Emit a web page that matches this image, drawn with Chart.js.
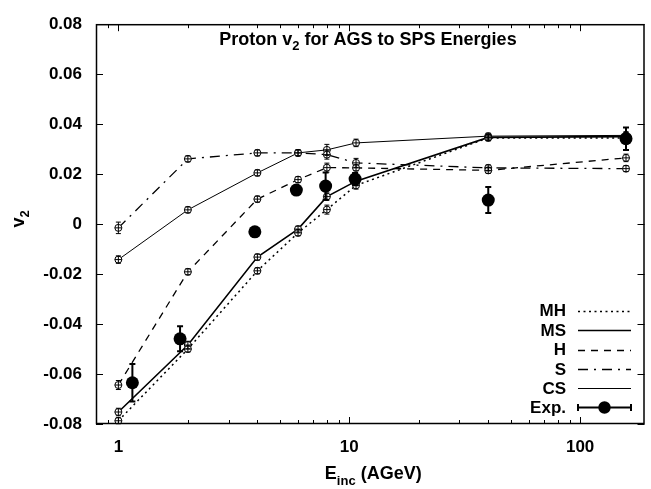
<!DOCTYPE html>
<html><head><meta charset="utf-8">
<script src="https://cdn.jsdelivr.net/npm/chart.js@4/dist/chart.umd.min.js"></script>
<style>html,body{margin:0;padding:0;background:#fff}#wrap{width:651px;height:489px}</style>
</head><body><div id="wrap"><canvas id="c" width="651" height="489"></canvas></div>
<script>
// ---- data ----
const modelEnergies = [1, 2, 4, 6, 8, 10.7, 40, 158];
const mhValues = [-0.0787, -0.0500, -0.0187, -0.0035, 0.0058, 0.0155, 0.0345, 0.0345];
const mhErrors = [0.0012, 0.0012, 0.0012, 0.0012, 0.0018, 0.0015, 0.0012, 0.0015];
const msValues = [-0.0752, -0.0484, -0.0132, -0.0020, 0.0110, 0.0172, 0.0347, 0.0350];
const msErrors = [0.0015, 0.0015, 0.0012, 0.0012, 0.0015, 0.0015, 0.0012, 0.0015];
const hValues = [-0.0644, -0.0191, 0.0100, 0.0178, 0.0226, 0.0225, 0.0215, 0.0265];
const hErrors = [0.0018, 0.0012, 0.0012, 0.0012, 0.0018, 0.0012, 0.0012, 0.0015];
const sValues = [-0.0015, 0.0261, 0.0285, 0.0285, 0.0278, 0.0245, 0.0225, 0.0222];
const sErrors = [0.0023, 0.0012, 0.0012, 0.0012, 0.0018, 0.0018, 0.0012, 0.0012];
const csValues = [-0.0142, 0.0057, 0.0205, 0.0285, 0.0297, 0.0325, 0.0352, 0.0355];
const csErrors = [0.0015, 0.0012, 0.0012, 0.0012, 0.0022, 0.0015, 0.0012, 0.0015];
const expEnergies = [1.15, 1.85, 3.9, 5.9, 7.9, 10.6, 40, 158];
const expValues = [-0.0635, -0.0459, -0.0031, 0.0136, 0.0152, 0.0180, 0.0096, 0.0342];
const expErrors = [0.0075, 0.0050, 0.0010, 0.0015, 0.0055, 0.0025, 0.0052, 0.0045];
const xTickValues = [1, 10, 100];
const yTickValues = [-0.08, -0.06, -0.04, -0.02, 0, 0.02, 0.04, 0.06, 0.08];
const seriesNames = ['MH', 'MS', 'H', 'S', 'CS', 'Exp.'];

const FONT = '"Liberation Sans", Arial, Helvetica, sans-serif';

function pts(xs, ys) { return xs.map((x, i) => ({ x: x, y: ys[i] })); }
function modelSet(label, vals, errs, width, dash) {
  return {
    label: label, data: pts(modelEnergies, vals), errors: errs,
    borderColor: '#000', borderWidth: width, borderDash: dash,
    pointRadius: 3.5, pointHoverRadius: 3.5, pointBackgroundColor: '#fff',
    pointBorderColor: '#000', pointBorderWidth: 1, fill: false, tension: 0,
    capHalf: 2.5, errWidth: 1, crossMark: true
  };
}

const datasets = [
  { label: 'Exp.', data: pts(expEnergies, expValues), errors: expErrors, showLine: false,
    pointRadius: 6.5, pointHoverRadius: 6.5, pointBackgroundColor: '#000', pointBorderColor: '#000',
    pointBorderWidth: 0, borderColor: '#000', borderWidth: 2, capHalf: 3, errWidth: 2, legendExp: true },
  modelSet('MH', mhValues, mhErrors, 1.5, [2, 3.5]),
  modelSet('MS', msValues, msErrors, 1.6, []),
  modelSet('H', hValues, hErrors, 1.3, [7, 6]),
  modelSet('S', sValues, sErrors, 1.3, [10, 6, 2, 6]),
  modelSet('CS', csValues, csErrors, 1, [])
];

function richWidth(ctx, parts, size, subSize) {
  let w = 0;
  parts.forEach(p => { ctx.font = 'bold ' + (p.sub ? subSize : size) + 'px ' + FONT; w += ctx.measureText(p.t).width; });
  return w;
}
function drawRich(ctx, parts, x, y, size, subSize, subDrop) {
  let cx = x;
  parts.forEach(p => {
    ctx.font = 'bold ' + (p.sub ? subSize : size) + 'px ' + FONT;
    ctx.fillText(p.t, cx, y + (p.sub ? subDrop : 0));
    cx += ctx.measureText(p.t).width;
  });
}

const decor = {
  id: 'decor',
  afterDatasetsDraw(chart) {
    const ctx = chart.ctx, xs = chart.scales.x, ys = chart.scales.y;
    ctx.save();
    ctx.strokeStyle = '#000';
    chart.data.datasets.forEach(ds => {
      if (!ds.errors) return;
      ctx.lineWidth = ds.errWidth;
      ctx.setLineDash([]);
      ds.data.forEach((p, i) => {
        const px = xs.getPixelForValue(p.x);
        const py = ys.getPixelForValue(p.y);
        const y1 = ys.getPixelForValue(p.y + ds.errors[i]);
        const y2 = ys.getPixelForValue(p.y - ds.errors[i]);
        const c = ds.capHalf;
        ctx.beginPath();
        ctx.moveTo(px, y1); ctx.lineTo(px, y2);
        ctx.moveTo(px - c, y1); ctx.lineTo(px + c, y1);
        ctx.moveTo(px - c, y2); ctx.lineTo(px + c, y2);
        if (ds.crossMark) { ctx.moveTo(px - 3.5, py); ctx.lineTo(px + 3.5, py); }
        ctx.stroke();
      });
    });
    ctx.restore();
  },
  afterDraw(chart) {
    const ctx = chart.ctx, a = chart.chartArea, xs = chart.scales.x, ys = chart.scales.y;
    ctx.save();
    ctx.strokeStyle = '#000'; ctx.fillStyle = '#000'; ctx.setLineDash([]);
    // frame
    ctx.lineWidth = 1.5;
    ctx.strokeRect(a.left + 0.5, a.top + 0.5, a.right - a.left - 1, a.bottom - a.top - 1);
    // y ticks (inward, both sides)
    ctx.lineWidth = 1;
    ctx.beginPath();
    yTickValues.forEach(v => {
      const py = Math.round(ys.getPixelForValue(v)) + 0.5;
      ctx.moveTo(a.left, py); ctx.lineTo(a.left + 7, py);
      ctx.moveTo(a.right, py); ctx.lineTo(a.right - 7, py);
    });
    // x ticks: majors and minors
    const lo = xs.min, hi = xs.max;
    for (let d = 0.1; d <= 1000; d *= 10) {
      for (let k = 1; k <= 9; k++) {
        const v = Math.round(d * k * 1000) / 1000;
        if (v < lo || v > hi) continue;
        const px = Math.round(xs.getPixelForValue(v)) + 0.5;
        const len = (k === 1) ? 7 : 4;
        ctx.moveTo(px, a.bottom); ctx.lineTo(px, a.bottom - len);
        ctx.moveTo(px, a.top); ctx.lineTo(px, a.top + len);
      }
    }
    ctx.stroke();

    // title inside the plot
    ctx.textBaseline = 'alphabetic';
    const titleParts = [{ t: 'Proton v' }, { t: '2', sub: true }, { t: ' for AGS to SPS Energies' }];
    const tw = richWidth(ctx, titleParts, 18, 13);
    drawRich(ctx, titleParts, 368 - tw / 2, 45, 18, 13, 5);

    // x axis title
    const xParts = [{ t: 'E' }, { t: 'inc', sub: true }, { t: ' (AGeV)' }];
    const xw = richWidth(ctx, xParts, 18, 13);
    drawRich(ctx, xParts, (a.left + a.right) / 2 - xw / 2 + 3, 479, 18, 13, 6);

    // y axis title (rotated)
    ctx.save();
    ctx.translate(24, 219);
    ctx.rotate(-Math.PI / 2);
    const yParts = [{ t: 'v' }, { t: '2', sub: true }];
    const yw = richWidth(ctx, yParts, 18, 13);
    drawRich(ctx, yParts, -yw / 2, 0, 18, 13, 5);
    ctx.restore();

    // legend
    const order = ['MH', 'MS', 'H', 'S', 'CS', 'Exp.'];
    const rowY = [310.5, 330, 349.5, 369, 388.2, 407];
    ctx.font = 'bold 17px ' + FONT;
    ctx.textAlign = 'right'; ctx.textBaseline = 'middle';
    order.forEach((name, i) => {
      const ds = chart.data.datasets.find(d => d.label === name);
      const y = rowY[i];
      ctx.fillText(name, 566, y + 1);
      const yl = Math.round(y) + 0.5;
      if (ds.legendExp) {
        ctx.lineWidth = 2; ctx.setLineDash([]);
        ctx.beginPath();
        ctx.moveTo(578, yl); ctx.lineTo(631, yl);
        ctx.moveTo(578, yl - 3.5); ctx.lineTo(578, yl + 3.5);
        ctx.moveTo(631, yl - 3.5); ctx.lineTo(631, yl + 3.5);
        ctx.stroke();
        ctx.beginPath(); ctx.arc(604.5, yl, 6.2, 0, Math.PI * 2); ctx.fill();
      } else {
        ctx.lineWidth = ds.borderWidth; ctx.setLineDash(ds.borderDash);
        ctx.beginPath(); ctx.moveTo(578, yl); ctx.lineTo(631, yl); ctx.stroke();
      }
    });
    ctx.restore();
  }
};

new Chart(document.getElementById('c'), {
  type: 'line',
  data: { datasets: datasets },
  plugins: [decor],
  options: {
    responsive: false, animation: false, devicePixelRatio: 1,
    layout: { padding: { top: 15, right: 1, bottom: 0, left: 0 } },
    plugins: { legend: { display: false }, title: { display: false }, tooltip: { enabled: false } },
    scales: {
      x: {
        type: 'logarithmic', min: 0.8, max: 190,
        grid: { display: false, drawTicks: false }, border: { display: false },
        afterBuildTicks: s => { s.ticks = xTickValues.map(v => ({ value: v })); },
        afterFit: s => { s.height = 65; },
        ticks: { color: '#000', font: { family: FONT, size: 17, weight: 'bold' }, padding: 13,
          maxRotation: 0, autoSkip: false, callback: v => String(v) }
      },
      y: {
        type: 'linear', min: -0.08, max: 0.08,
        grid: { display: false, drawTicks: false }, border: { display: false },
        afterBuildTicks: s => { s.ticks = yTickValues.map(v => ({ value: v })); },
        afterFit: s => { s.width = 96; },
        ticks: { color: '#000', font: { family: FONT, size: 17, weight: 'bold' }, padding: 14,
          callback: v => (Math.abs(v) < 1e-9 ? '0' : v.toFixed(2)) }
      }
    }
  }
});
</script>
</body></html>
